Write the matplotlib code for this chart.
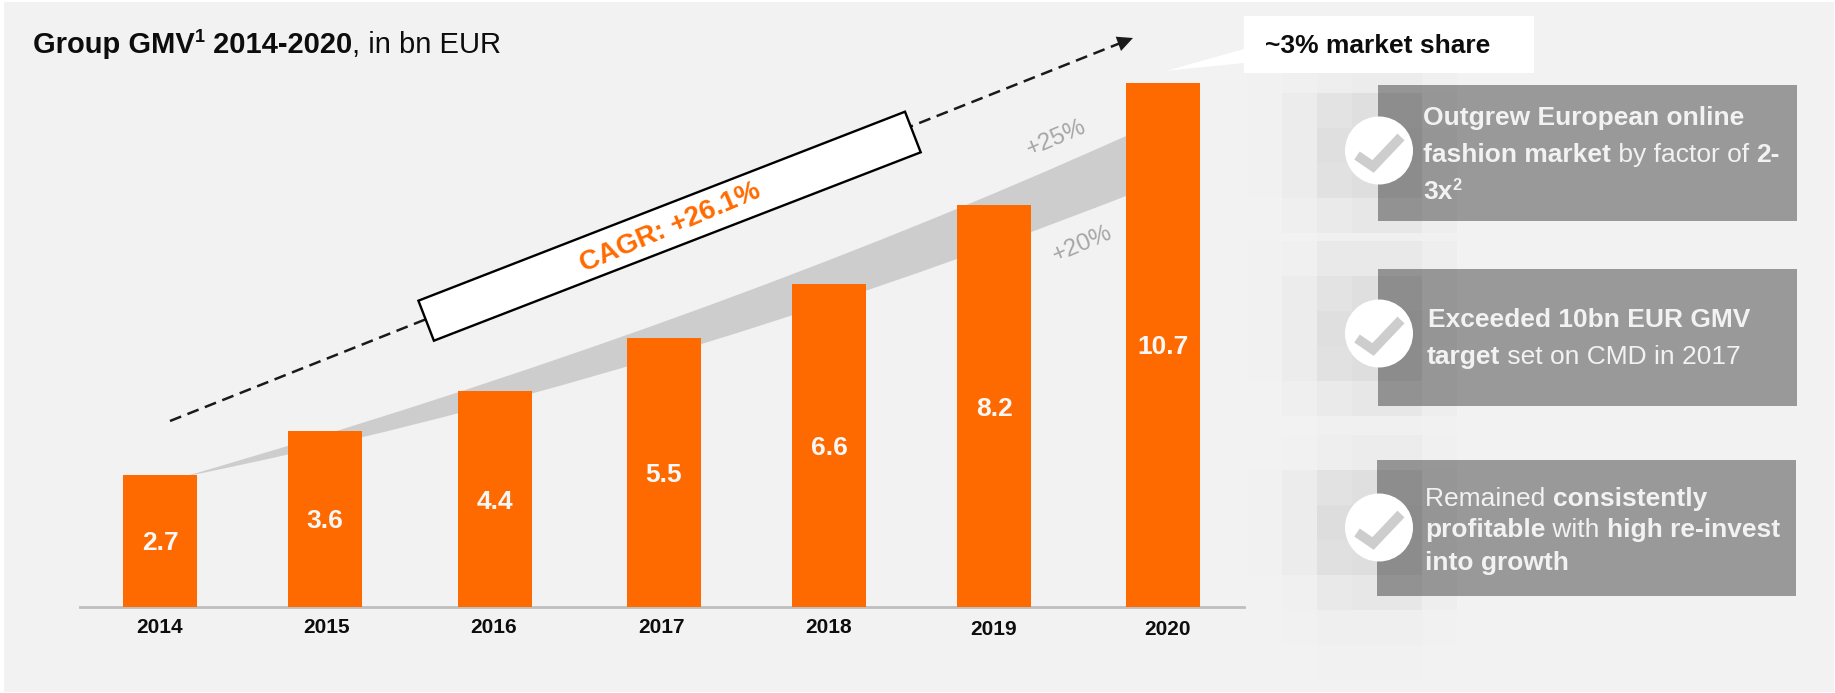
import numpy as np
import matplotlib
matplotlib.use("Agg")
import matplotlib.pyplot as plt
from matplotlib.patches import Rectangle, Polygon, Circle, PathPatch
from matplotlib.path import Path

W, H = 1835, 693
plt.rcParams['font.family'] = ['Liberation Sans', 'DejaVu Sans']

# ---- data ----
years = ['2014', '2015', '2016', '2017', '2018', '2019', '2020']
gmv = [2.7, 3.6, 4.4, 5.5, 6.6, 8.2, 10.7]
bar_centers = [160, 325, 495, 664, 829, 994, 1163]
year_label_centers = [160, 327, 494, 661, 829, 994, 1167]
year_label_pads = [7.8, 7.8, 7.8, 7.8, 7.8, 9.6, 9.6]

shadow_cols = [1247, 1282, 1317, 1352, 1387, 1422, 1457]
shadow_rows = [73, 93, 128, 163, 198, 233, 241, 276, 311, 346, 381, 416,
               435, 470, 505, 540, 575, 610, 645, 680]
shadow_levels = [
    [241, 240, 238, 236, 236, 240],
    [241, 236, 228, 224, 224, 238],
    [241, 236, 224, 220, 220, 236],
    [241, 236, 226, 222, 222, 238],
    [242, 239, 234, 232, 232, 238],
    [242, 242, 240, 240, 240, 241],
    [241, 240, 233, 233, 233, 238],
    [241, 236, 228, 224, 224, 238],
    [241, 236, 224, 220, 220, 236],
    [241, 236, 226, 222, 222, 238],
    [242, 239, 234, 232, 232, 238],
    [242, 242, 240, 240, 240, 241],
    [242, 241, 238, 236, 236, 240],
    [241, 236, 227, 223, 223, 238],
    [241, 236, 221, 220, 220, 236],
    [241, 236, 225, 222, 222, 238],
    [242, 240, 233, 232, 232, 238],
    [242, 241, 239, 239, 239, 241],
    [242, 242, 241, 241, 241, 242],
]

ORANGE = '#FF6A00'
PANEL = '#F2F2F2'
BOX = '#999999'
INK = '#F2F2F2'

fig = plt.figure(figsize=(W / 100, H / 100), dpi=100, facecolor='white')


def pixel_axes(z):
    a = fig.add_axes([0, 0, 1, 1], zorder=z)
    a.set_xlim(0, W)
    a.set_ylim(H, 0)
    a.axis('off')
    a.patch.set_alpha(0)
    return a


back = pixel_axes(0)
top = pixel_axes(2)

# main chart axes: x in pixels, y in bn EUR
base_y, top_y = 606.7, 83
ax = fig.add_axes([80 / W, (H - base_y) / H, (1244 - 80) / W, (base_y - top_y) / H], zorder=1)
ax.patch.set_alpha(0)
ax.set_xlim(80, 1244)
ax.set_ylim(0, 10.7)
ax.bar(bar_centers, gmv, width=74, color=ORANGE, linewidth=0, zorder=3)
for x, v in zip(bar_centers, gmv):
    ax.text(x, v / 2, f'{v:.1f}', color='#F7F7F7', fontsize=19, fontweight='bold',
            ha='center', va='center_baseline', zorder=4)
for s in ['top', 'left', 'right']:
    ax.spines[s].set_visible(False)
ax.spines['bottom'].set_color('#BFBFBF')
ax.spines['bottom'].set_linewidth(2)
ax.set_yticks([])
ax.set_xticks(year_label_centers)
ax.set_xticklabels(years, fontsize=15, fontweight='bold', color='#0D0D0D')
ax.tick_params(axis='x', length=0)
for t, p in zip(ax.xaxis.get_major_ticks(), year_label_pads):
    t.set_pad(p)

# panel, growth wedge
back.add_patch(Rectangle((4, 2), 1830, 690, fc=PANEL, ec='none', zorder=0))
wedge = Path([(183, 477), (704, 326), (1126, 136), (1126, 196), (642, 384), (183, 477), (183, 477)],
             [Path.MOVETO, Path.CURVE3, Path.CURVE3, Path.LINETO, Path.CURVE3, Path.CURVE3, Path.CLOSEPOLY])
back.add_patch(PathPatch(wedge, fc='#CDCDCD', ec='none', zorder=1))

# dashed CAGR arrow
back.plot([170, 1120], [421, 43.2], color='#1A1A1A', lw=1.8,
          linestyle=(0, (4.8, 2.7)), dash_capstyle='butt', zorder=2)
back.add_patch(Polygon([(1133, 38), (1115.7, 36.7), (1121, 51)], fc='#1A1A1A', ec='none', zorder=2))
back.add_patch(Polygon([(418.4, 300.7), (905, 111.7), (920.7, 152.3), (433.9, 340.7)],
                       fc='white', ec='black', lw=1.7, joinstyle='miter', zorder=3))
back.text(670.6, 228, 'CAGR: +26.1%', color=ORANGE, fontsize=20, fontweight='bold',
          rotation=23, rotation_mode='anchor', ha='center', va='center', zorder=4)
back.text(1056, 138, '+25%', color='#A6A6A6', fontsize=17.5, rotation=23,
          rotation_mode='anchor', ha='center', va='center')
back.text(1082, 244, '+20%', color='#A6A6A6', fontsize=17.5, rotation=23,
          rotation_mode='anchor', ha='center', va='center')

renderer = fig.canvas.get_renderer()


def advance(a, s, **kw):
    m = a.text(0, 0, '|' + s + '|', **kw)
    w1 = m.get_window_extent(renderer).width
    m.set_text('||')
    w0 = m.get_window_extent(renderer).width
    m.remove()
    return w1 - w0


def rich(a, x, y, runs, size, color, **extra):
    for r in runs:
        s, bold = r[0], r[1]
        sup = len(r) > 2
        fs = size * 0.62 if sup else size
        kw = dict(fontsize=fs, fontweight='bold' if bold else 'normal')
        a.text(x, y - (size * 0.5 if sup else 0), s, color=color, ha='left', va='baseline', **kw, **extra)
        x += advance(a, s, **kw)


# title
rich(back, 33, 52.7, [('Group GMV', True), ('1', True, 'sup'), (' 2014-2020', True),
                      (', in bn EUR', False)], 21, '#0D0D0D', zorder=4)

# shadow grid multiplies what lies beneath it
levels = np.array(shadow_levels, dtype=float)
rgba = np.zeros(levels.shape + (4,))
rgba[..., 3] = 1 - levels / 242.0

boxes = [(1378, 85, 1797, 221), (1378, 269, 1797, 406), (1377, 460, 1796, 596)]
for x0, y0, x1, y1 in boxes:
    top.add_patch(Rectangle((x0, y0), x1 - x0, y1 - y0, fc=BOX, ec='none', zorder=1))
top.pcolormesh(shadow_cols, shadow_rows, rgba, zorder=2, antialiased=False, linewidth=0)

# callout
top.add_patch(Polygon([(1167, 70.7), (1244, 49), (1244, 63)], fc='white', ec='none', zorder=3))
top.add_patch(Rectangle((1244, 15.7), 290, 57, fc='white', ec='none', zorder=3))
top.text(1264.5, 53.3, '~3% market share', fontsize=19, fontweight='bold', color='#0D0D0D',
         va='baseline', ha='left', zorder=4)

# check circles
for cy in (150.5, 333.5, 527.5):
    top.add_patch(Circle((1379, cy), 34, fc='white', ec='none', zorder=4))
    top.plot([1379 - 22, 1379 - 6, 1379 + 22], [cy + 5, cy + 16, cy - 13.5], color='#CDCDCD',
             lw=7, solid_joinstyle='miter', solid_capstyle='butt', zorder=5)

# box texts
rich(top, 1423, 125, [('Outgrew European online', True)], 19, INK, zorder=6)
rich(top, 1423, 162, [('fashion market', True), (' by factor of ', False), ('2-', True)], 19, INK, zorder=6)
rich(top, 1423, 199, [('3x', True), ('2', True, 'sup')], 19, INK, zorder=6)
rich(top, 1428, 327, [('Exceeded 10bn EUR GMV', True)], 19, INK, zorder=6)
rich(top, 1427, 364.3, [('target', True), (' set on CMD in 2017', False)], 19, INK, zorder=6)
rich(top, 1425, 505.7, [('Remained ', False), ('consistently', True)], 19, INK, zorder=6)
rich(top, 1425, 537.3, [('profitable', True), (' with ', False), ('high re-invest', True)], 19, INK, zorder=6)
rich(top, 1425, 570, [('into growth', True)], 19, INK, zorder=6)

fig.savefig('out.png', dpi=100, facecolor='white')
